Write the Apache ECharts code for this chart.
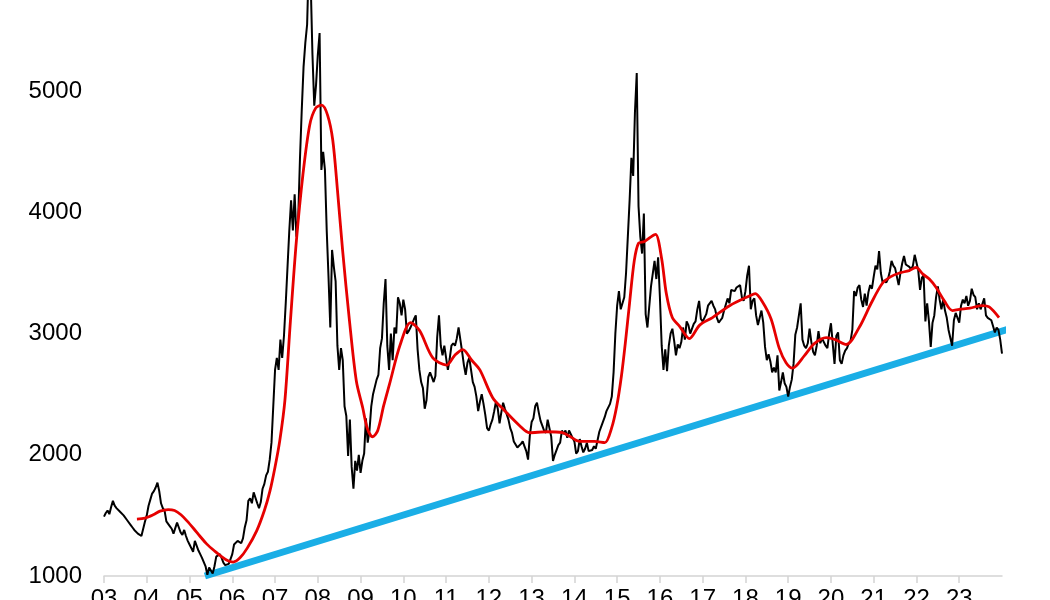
<!DOCTYPE html>
<html>
<head>
<meta charset="utf-8">
<script src="https://cdn.jsdelivr.net/npm/echarts@6/dist/echarts.min.js"></script>
<style>
  html, body { margin: 0; padding: 0; background: #fff; }
  #chart { width: 1050px; height: 600px; }
</style>
</head>
<body>
<div id="chart"></div>
<script>
// index closes, two readings a month (1st and 16th), from Jan 2003
const startYear = 2003;
const perYear = 24;
const closes = [
  // 2003
  1490, 1520, 1540, 1510, 1570, 1620, 1580, 1560, 1550, 1530, 1540, 1500, 1490, 1460, 1450, 1420, 1400, 1380, 1370, 1350, 1340, 1330, 1390, 1450,
  // 2004
  1500, 1580, 1630, 1680, 1700, 1730, 1770, 1700, 1600, 1560, 1540, 1450, 1430, 1410, 1390, 1350, 1360, 1440, 1400, 1360, 1340, 1380, 1330, 1290,
  // 2005
  1260, 1230, 1200, 1290, 1300, 1210, 1180, 1150, 1160, 1080, 1010, 1070, 1060, 1020, 1080, 1160, 1170, 1180, 1150, 1110, 1090, 1090, 1100, 1140,
  // 2006
  1180, 1260, 1270, 1290, 1300, 1270, 1310, 1400, 1460, 1620, 1640, 1600, 1690, 1700, 1600, 1560, 1610, 1720, 1760, 1830, 1860, 1960, 2100, 2400,
  // 2007
  2700, 2800, 2700, 2950, 2800, 2980, 3250, 3550, 3850, 4100, 3850, 4150, 3800, 3950, 4450, 4850, 5200, 5400, 5550, 6100, 5900, 5300, 4880, 5050,
  // 2008
  5300, 5480, 4350, 4500, 4350, 3850, 3470, 3050, 3690, 3550, 3430, 2900, 2700, 2880, 2780, 2400, 2320, 1990, 2290, 1900, 1720, 1950, 1870, 2000,
  // 2009
  1850, 1950, 2010, 2300, 2100, 2200, 2400, 2500, 2500, 2620, 2660, 2880, 2960, 3250, 3450, 2900, 2700, 3000, 2780, 3050, 3000, 3300, 3250, 3150,
  // 2010
  3280, 3200, 3000, 3020, 3050, 3060, 3120, 3150, 2870, 2700, 2600, 2550, 2380, 2450, 2640, 2680, 2640, 2600, 2650, 2970, 3150, 2900, 2820, 2900,
  // 2011
  2800, 2700, 2790, 2900, 2920, 2900, 2960, 3050, 2950, 2850, 2740, 2660, 2760, 2800, 2700, 2600, 2560, 2480, 2360, 2440, 2500, 2420, 2330, 2220,
  // 2012
  2200, 2250, 2290, 2360, 2440, 2380, 2260, 2350, 2430, 2380, 2370, 2290, 2220, 2180, 2110, 2110, 2060, 2060, 2090, 2110, 2070, 2030, 1960, 2160,
  // 2013
  2270, 2300, 2400, 2430, 2350, 2280, 2240, 2200, 2180, 2290, 2300, 2150, 1950, 2000, 2000, 2080, 2100, 2200, 2170, 2200, 2140, 2200, 2210, 2140,
  // 2014
  2110, 2010, 2030, 2130, 2070, 2020, 2050, 2100, 2030, 2030, 2040, 2070, 2050, 2060, 2190, 2230, 2220, 2310, 2360, 2370, 2420, 2480, 2680, 3000,
  // 2015
  3230, 3350, 3200, 3250, 3300, 3500, 3800, 4100, 4450, 4300, 4830, 5150, 4050, 3800, 3660, 3990, 3160, 3050, 3050, 3390, 3380, 3600, 3450, 3630,
  // 2016
  3300, 2900, 2700, 2870, 2690, 2900, 3000, 3040, 2940, 2820, 2910, 2880, 2930, 3050, 2950, 3100, 3070, 3000, 3000, 3080, 3100, 3200, 3270, 3120,
  // 2017
  3100, 3110, 3160, 3230, 3230, 3270, 3230, 3200, 3130, 3090, 3110, 3130, 3190, 3200, 3290, 3250, 3360, 3370, 3350, 3380, 3390, 3400, 3300, 3270,
  // 2018
  3350, 3480, 3560, 3200, 3270, 3290, 3150, 3070, 3080, 3190, 3090, 2890, 2780, 2830, 2770, 2680, 2720, 2680, 2820, 2530, 2600, 2680, 2590, 2560,
  // 2019
  2480, 2560, 2620, 2750, 2990, 3050, 3150, 3250, 2950, 2900, 2880, 2920, 3040, 2930, 2850, 2820, 2900, 3020, 2920, 2960, 2960, 2900, 2880, 3000,
  // 2020
  3085, 3080, 2750, 2980, 3010, 2780, 2750, 2820, 2860, 2880, 2920, 2940, 3030, 3350, 3310, 3380, 3400, 3280, 3220, 3330, 3230, 3340, 3400, 3370,
  // 2021
  3470, 3560, 3530, 3680, 3500, 3420, 3440, 3420, 3450, 3510, 3600, 3560, 3540, 3540, 3400, 3500, 3580, 3640, 3570, 3570, 3550, 3530, 3560, 3650,
  // 2022
  3640, 3520, 3360, 3460, 3480, 3100, 3250, 3100, 2890, 3090, 3150, 3300, 3390, 3280, 3200, 3280, 3190, 3130, 3030, 3030, 2900, 3110, 3170, 3180,
  // 2023
  3090, 3230, 3280, 3250, 3310, 3230, 3270, 3370, 3320, 3300, 3200, 3250, 3200, 3200, 3290, 3150, 3130, 3130, 3110, 3060, 3010, 3050, 3030, 2950,
  // 2024
  2835
];

// smoothed trend (red), read as [year, value]
const smooth = [
  [2003.77, 1470], [2003.96, 1478], [2004.15, 1505], [2004.31, 1535], [2004.5, 1548], [2004.65, 1540],
  [2004.8, 1505], [2004.94, 1455], [2005.1, 1390], [2005.24, 1330], [2005.4, 1265], [2005.59, 1205],
  [2005.75, 1160], [2005.9, 1125], [2006.02, 1115], [2006.18, 1150], [2006.35, 1230], [2006.57, 1372],
  [2006.75, 1540], [2006.88, 1700], [2007.0, 1900], [2007.11, 2115], [2007.23, 2446], [2007.36, 3107],
  [2007.5, 3768], [2007.65, 4306], [2007.81, 4719], [2007.95, 4860], [2008.09, 4884], [2008.23, 4800],
  [2008.35, 4595], [2008.46, 4182], [2008.58, 3686], [2008.74, 3107], [2008.9, 2611], [2009.05, 2388],
  [2009.16, 2215], [2009.28, 2149], [2009.4, 2198], [2009.54, 2405], [2009.68, 2587], [2009.92, 2901],
  [2010.17, 3091], [2010.38, 3025], [2010.69, 2800], [2011.01, 2740], [2011.2, 2820], [2011.39, 2868],
  [2011.6, 2780], [2011.79, 2700], [2012.09, 2471], [2012.37, 2364], [2012.72, 2240], [2012.95, 2182],
  [2013.35, 2190], [2013.72, 2182], [2013.9, 2150], [2014.12, 2110], [2014.47, 2110], [2014.71, 2100],
  [2014.87, 2220], [2014.99, 2400], [2015.1, 2650], [2015.2, 2950], [2015.29, 3250], [2015.4, 3600],
  [2015.5, 3745], [2015.64, 3760], [2015.8, 3800], [2015.9, 3818], [2016.04, 3620], [2016.15, 3330],
  [2016.29, 3132], [2016.46, 3060], [2016.69, 2959], [2016.93, 3070], [2017.23, 3132], [2017.63, 3230],
  [2018.09, 3310], [2018.23, 3330], [2018.4, 3260], [2018.6, 3120], [2018.79, 2880], [2018.95, 2760],
  [2019.1, 2715], [2019.38, 2818], [2019.61, 2917], [2019.89, 2967], [2020.1, 2950], [2020.36, 2910],
  [2020.66, 3050], [2020.94, 3250], [2021.2, 3413], [2021.4, 3470], [2021.6, 3500], [2021.83, 3520],
  [2021.99, 3545], [2022.15, 3490], [2022.3, 3450], [2022.46, 3380], [2022.65, 3270], [2022.84, 3190],
  [2023.0, 3200], [2023.25, 3210], [2023.54, 3231], [2023.7, 3220], [2023.93, 3132]
];

// blue support line, start and end
const support = [[2005.36, 1000], [2024.24, 3046]];

const yearTicks = [2003, 2004, 2005, 2006, 2007, 2008, 2009, 2010, 2011, 2012, 2013,
  2014, 2015, 2016, 2017, 2018, 2019, 2020, 2021, 2022, 2023];
const valueTicks = [1000, 2000, 3000, 4000, 5000];

const closeData = closes.map((v, i) => [startYear + i / perYear, v]);

const chart = echarts.init(document.getElementById('chart'));
chart.setOption({
  animation: false,
  backgroundColor: '#fff',
  textStyle: { fontFamily: 'Liberation Sans, Arial, sans-serif' },
  grid: { left: 104, right: 48, top: 0, bottom: 24, containLabel: false, outerBoundsMode: 'none' },
  xAxis: {
    type: 'value',
    min: 2003,
    max: 2024,
    interval: 1,
    splitLine: { show: false },
    axisLine: { lineStyle: { color: '#d4d4d4', width: 1.5 } },
    axisTick: { customValues: yearTicks, length: 7, lineStyle: { color: '#d4d4d4', width: 1.5 } },
    axisLabel: {
      customValues: yearTicks,
      formatter: v => String(v).slice(2),
      color: '#000', fontSize: 24, margin: 11
    }
  },
  yAxis: {
    type: 'value',
    min: 1000,
    max: 5752,
    splitLine: { show: false },
    axisLine: { show: false },
    axisTick: { show: false },
    axisLabel: {
      customValues: valueTicks,
      formatter: v => String(v),
      color: '#000', fontSize: 24, margin: 22
    }
  },
  series: [
    {
      type: 'line', data: support, symbol: 'none', clip: false,
      lineStyle: { color: '#1aaee6', width: 7 }
    },
    {
      type: 'line', data: closeData, symbol: 'none',
      lineStyle: { color: '#000', width: 2 }
    },
    {
      type: 'line', data: smooth, symbol: 'none', smooth: 0.3,
      lineStyle: { color: '#e60000', width: 2.8 }
    }
  ]
});
</script>
</body>
</html>
